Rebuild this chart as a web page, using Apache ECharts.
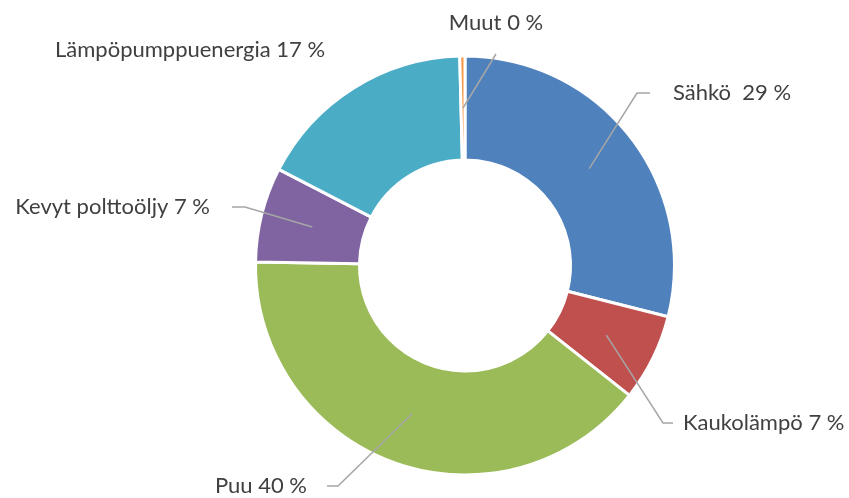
<!DOCTYPE html>
<html>
<head>
<meta charset="utf-8">
<script src="https://cdn.jsdelivr.net/npm/echarts@6/dist/echarts.min.js"></script>
<style>
  html, body { margin: 0; padding: 0; background: #fff; }
  #chart { width: 849px; height: 498px; }
</style>
</head>
<body>
<div id="chart"></div>
<script>
  // slice sizes (share of total, %)
  var categories = ["Sähkö ", "Kaukolämpö", "Puu", "Kevyt polttoöljy", "Lämpöpumppuenergia", "Muut"];
  var shares = [28.9, 6.7, 39.6, 7.3, 17.0, 0.4];
  var colors = ["#4F81BD", "#C0504D", "#9BBB59", "#8064A2", "#4BACC6", "#F79646"];

  // where each label sits (x, y, align, verticalAlign, padding, leader tail)
  var labelPlaces = [
    { x: 650, y: 93, align: "left", va: "middle", pad: [0, 0, 0, 23], tail: 13 },
    { x: 673, y: 423, align: "left", va: "middle", pad: [0, 0, 0, 10], tail: 10 },
    { x: 327, y: 486, align: "right", va: "middle", pad: [0, 20, 0, 0], tail: 11 },
    { x: 232, y: 207, align: "right", va: "middle", pad: [0, 22, 0, 0], tail: 13 },
    { x: 55, y: 50, align: "left", va: "middle", pad: 0, tail: 0, noLine: true },
    { x: 496, y: 54, align: "center", va: "bottom", pad: [0, 0, 20, 0], tail: 0 },
  ];

  var pieData = [],
    labelData = [];
  categories.map(function (name, i) {
    pieData.push({ name: name, value: shares[i], itemStyle: { color: colors[i] } });
    labelData.push({
      name: name,
      value: shares[i],
      label: { padding: labelPlaces[i].pad },
      labelLine: { show: !labelPlaces[i].noLine, length2: labelPlaces[i].tail },
    });
  });

  var chart = echarts.init(document.getElementById("chart"));
  var center = [465, 265.5];
  var option = {
    backgroundColor: "#fff",
    animation: false,
    series: [
      {
        name: "ring",
        type: "pie",
        z: 2,
        center: center,
        radius: [105.5, 209.5],
        startAngle: 90,
        clockwise: true,
        silent: true,
        label: { show: false },
        labelLine: { show: false },
        itemStyle: {
          borderColor: "#fff",
          borderWidth: 3,
        },
        data: pieData,
      },
      {
        // transparent pie, its edge is the middle of the ring: leader lines start there
        name: "labels",
        type: "pie",
        z: 5,
        center: center,
        radius: [0, 157.5],
        startAngle: 90,
        clockwise: true,
        silent: true,
        avoidLabelOverlap: false,
        itemStyle: { color: "rgba(0,0,0,0)" },
        label: {
          show: true,
          position: "outside",
          color: "#404040",
          fontFamily: "Lato",
          fontSize: 22,
          backgroundColor: "rgba(0,0,0,0)",
          formatter: function (p) {
            return p.name + " " + Math.round(p.value) + " %";
          },
        },
        labelLine: {
          show: true,
          length: 20,
          length2: 10,
          minTurnAngle: 0,
          lineStyle: { color: "#A6A6A6", width: 1.5 },
        },
        labelLayout: function (params) {
          var p = labelPlaces[params.dataIndex];
          return { x: p.x, y: p.y, align: p.align, verticalAlign: p.va };
        },
        data: labelData,
      },
    ],
  };
  chart.setOption(option);
</script>
</body>
</html>
